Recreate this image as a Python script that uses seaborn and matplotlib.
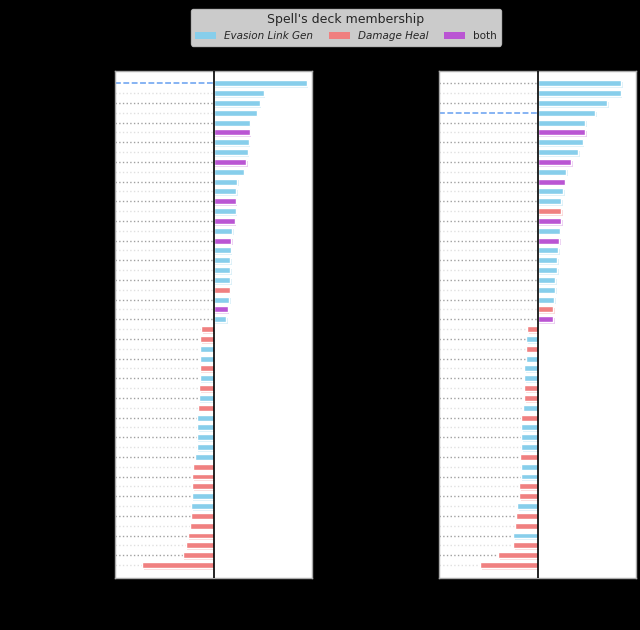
import matplotlib
matplotlib.use("Agg")
import matplotlib.pyplot as plt
import matplotlib.patheffects as pe
from matplotlib.patches import Patch
import pandas as pd
import seaborn as sns

# ---------------- data ----------------
groups = ["Evasion Link Gen", "Damage Heal", "both"]
group_colors = ["#87CEEB", "#F08080", "#BA55D3"]
ranks = [str(i) for i in range(1, 51)]

left_values = [9.3, 5.0, 4.6, 4.3, 3.6, 3.6, 3.5, 3.4, 3.25, 3.0,
               2.35, 2.25, 2.2, 2.2, 2.1, 1.85, 1.75, 1.7, 1.65, 1.65,
               1.65, 1.6, 1.55, 1.4, 1.25, -1.2, -1.3, -1.3, -1.37, -1.37,
               -1.37, -1.43, -1.47, -1.53, -1.6, -1.6, -1.67, -1.67, -1.83, -2.03,
               -2.1, -2.1, -2.17, -2.23, -2.23, -2.37, -2.57, -2.77, -3.07, -7.13]
left_groups = list("BBBBBPBBPBBBPBPBPBBBBRBPBRRBBRBRBRBBBBBRRRBBRRRRRR")

right_values = [8.33, 8.3, 6.97, 5.77, 4.77, 4.77, 4.5, 4.07, 3.37, 2.87,
                2.7, 2.57, 2.37, 2.34, 2.34, 2.2, 2.14, 2.04, 1.97, 1.97,
                1.77, 1.77, 1.64, 1.57, 1.57, -1.03, -1.13, -1.13, -1.16, -1.3,
                -1.3, -1.36, -1.36, -1.43, -1.6, -1.63, -1.63, -1.66, -1.7, -1.68,
                -1.68, -1.8, -1.8, -2.03, -2.13, -2.23, -2.43, -2.46, -3.9, -5.7]
right_groups = list("BBBBBPBBPBPBBRPBPBBBBBBRPRBRBBBRRBRBBBRBBRRBRRBRRR")

left_highlight = 0
right_highlight = 3

legend_title = "Spell's deck membership"

# ---------------- styling ----------------
sns.set_style("white")
code = {"B": groups[0], "R": groups[1], "P": groups[2]}
palette = dict(zip(groups, group_colors))
XMAX = 9.83

fig = plt.figure(figsize=(6.4, 6.3), dpi=100, facecolor="black")

ax_l = fig.add_axes([115 / 640, 52 / 630, 197 / 640, 507 / 630])
ax_r = fig.add_axes([439 / 640, 52 / 630, 197 / 640, 507 / 630])


def draw(ax, values, gcodes, highlight):
    df = pd.DataFrame({
        "rank": ranks,
        "value": values,
        "group": [code[c] for c in gcodes],
    })
    # leader lines
    for i, v in enumerate(values):
        end = min(0.0, v)
        if i == highlight:
            ax.hlines(i, -XMAX, 0, colors="#86b3f3", linestyles=(0, (3, 1.3)),
                      lw=1.4, zorder=1)
        else:
            col = "#a0a0a0" if i % 2 == 0 else "#e0e0e0"
            ax.hlines(i, -XMAX, end, colors=col, linestyles=":", lw=1.0, zorder=1)
    sns.barplot(data=df, x="value", y="rank", hue="group", hue_order=groups,
                palette=palette, order=ranks, orient="h", dodge=False,
                width=0.6, saturation=1, legend=False, ax=ax, zorder=2)
    for p in ax.patches:
        fc = p.get_facecolor()
        p.set_path_effects([
            pe.SimplePatchShadow(offset=(1.2, -1.2), shadow_rgbFace=fc[:3], alpha=0.3),
            pe.Normal(),
        ])
    ax.axvline(0, color="black", lw=1.2, zorder=3)
    ax.set_xlim(-XMAX, XMAX)
    ax.set_ylim(50.32, -1.25)
    ax.set_yticks(range(50))
    ax.set_yticklabels([])
    ax.set_xlabel("")
    ax.set_ylabel("")
    ax.set_facecolor("white")
    for s in ax.spines.values():
        s.set_color("#aaaaaa")
        s.set_linewidth(1.0)
    ax.tick_params(length=0, labelcolor="black")


draw(ax_l, left_values, left_groups, left_highlight)
draw(ax_r, right_values, right_groups, right_highlight)

handles = [Patch(facecolor=c, edgecolor="none", label=g) for g, c in zip(groups, group_colors)]
leg = fig.legend(handles=handles, title=legend_title, ncol=3, loc="upper center",
                 bbox_to_anchor=(346 / 640, 1 - 9 / 630), fontsize=7.5,
                 title_fontsize=9, columnspacing=1.5, borderaxespad=0.0)
for t in leg.get_texts()[:2]:
    t.set_fontstyle("italic")

fig.savefig("out.png", dpi=100, facecolor=fig.get_facecolor())
